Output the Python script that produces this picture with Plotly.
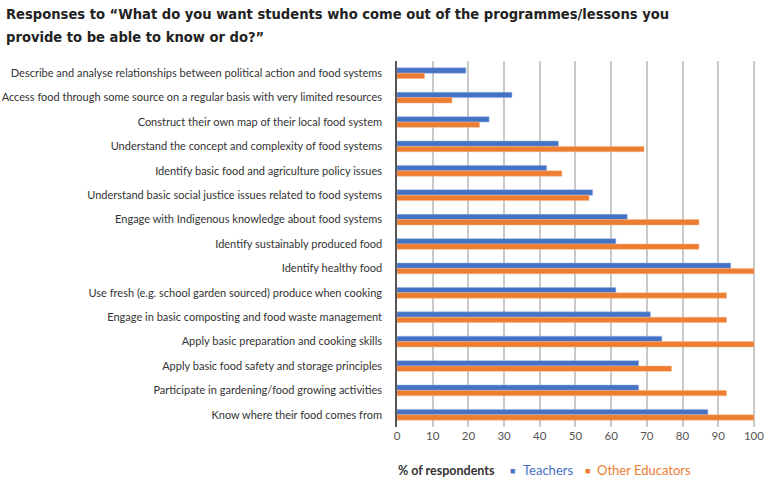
import plotly.graph_objects as go

# ---- data ----
categories = [
    "Describe and analyse relationships between political action and food systems",
    "Access food through some source on a regular basis with very limited resources",
    "Construct their own map of their local food system",
    "Understand the concept and complexity of food systems",
    "Identify basic food and agriculture policy issues",
    "Understand basic social justice issues related to food systems",
    "Engage with Indigenous knowledge about food systems",
    "Identify sustainably produced food",
    "Identify healthy food",
    "Use fresh (e.g. school garden sourced) produce when cooking",
    "Engage in basic composting and food waste management",
    "Apply basic preparation and cooking skills",
    "Apply basic food safety and storage principles",
    "Participate in gardening/food growing activities",
    "Know where their food comes from",
]
teachers = [19.3, 32.2, 25.8, 45.2, 41.9, 54.8, 64.5, 61.3, 93.5, 61.3, 71.0, 74.2, 67.7, 67.7, 87.1]
other_educators = [7.7, 15.4, 23.1, 69.2, 46.2, 53.8, 84.6, 84.6, 100, 92.3, 92.3, 100, 76.9, 92.3, 100]
x_ticks = list(range(0, 101, 10))
title_lines = [
    "Responses to “What do you want students who come out of the programmes/lessons you",
    "provide to be able to know or do?”",
]

BLUE = "#4472C4"
ORANGE = "#ED7D31"

# plot area in pixels
W, H = 765, 479
L, R, T, B = 397, 10, 61, 52
PW, PH = W - L - R, H - T - B


def px(x):
    return (x - L) / PW


def py(y):
    return (H - B - y) / PH


fig = go.Figure()
fig.add_trace(go.Bar(
    y=categories, x=teachers, orientation="h", name="Teachers",
    marker=dict(color=BLUE, line=dict(color="#9db3e0", width=0.5)),
))
fig.add_trace(go.Bar(
    y=categories, x=other_educators, orientation="h", name="Other Educators",
    marker=dict(color=ORANGE, line=dict(color="#f5b488", width=0.5)),
))

# two-line title, one annotation per line so the line spacing matches
for line, yy in zip(title_lines, [14, 36]):
    fig.add_annotation(
        text=f"<b>{line}</b>", xref="paper", yref="paper", x=px(4), y=py(yy),
        xanchor="left", yanchor="middle", align="left", showarrow=False,
        font=dict(family="'DejaVu Sans Condensed', 'DejaVu Sans', sans-serif", size=14.6, color="#222222"),
    )

# legend row
fig.add_annotation(text="<b>% of respondents</b>", xref="paper", yref="paper", x=px(396), y=py(470),
                   xanchor="left", yanchor="middle", showarrow=False,
                   font=dict(size=12.5, color="#333333"))
fig.add_annotation(text="■", xref="paper", yref="paper", x=px(508), y=py(471),
                   xanchor="left", yanchor="middle", showarrow=False, font=dict(size=9, color=BLUE))
fig.add_annotation(text="Teachers", xref="paper", yref="paper", x=px(521), y=py(470),
                   xanchor="left", yanchor="middle", showarrow=False, font=dict(size=13, color=BLUE))
fig.add_annotation(text="■", xref="paper", yref="paper", x=px(583), y=py(471),
                   xanchor="left", yanchor="middle", showarrow=False, font=dict(size=9, color=ORANGE))
fig.add_annotation(text="Other Educators", xref="paper", yref="paper", x=px(595), y=py(470),
                   xanchor="left", yanchor="middle", showarrow=False, font=dict(size=13, color=ORANGE))

fig.update_layout(
    width=W, height=H,
    margin=dict(l=L, r=R, t=T, b=B),
    paper_bgcolor="white", plot_bgcolor="white",
    barmode="group", bargap=0.56, bargroupgap=0,
    showlegend=False,
    font=dict(family="Lato, 'Open Sans', sans-serif", size=10.5, color="#333333"),
    xaxis=dict(
        range=[0, 100.3], tickvals=x_ticks, showgrid=True, gridcolor="#c9c9c9", gridwidth=1.5,
        zeroline=False, showline=False, ticks="", automargin=False,
        ticklabeloverflow="allow", tickfont=dict(size=11.5, color="#555555"),
    ),
    yaxis=dict(
        autorange="reversed", showline=True, linecolor="#555555", linewidth=1.5,
        ticks="", ticklabelstandoff=11, automargin=False,
        tickfont=dict(size=11, color="#333333"),
    ),
)

# drop the default 8px body margin so the figure sits flush in the window
fig.write_html("out.html", config={"displayModeBar": False},
               post_script="document.body.style.margin='0';")
